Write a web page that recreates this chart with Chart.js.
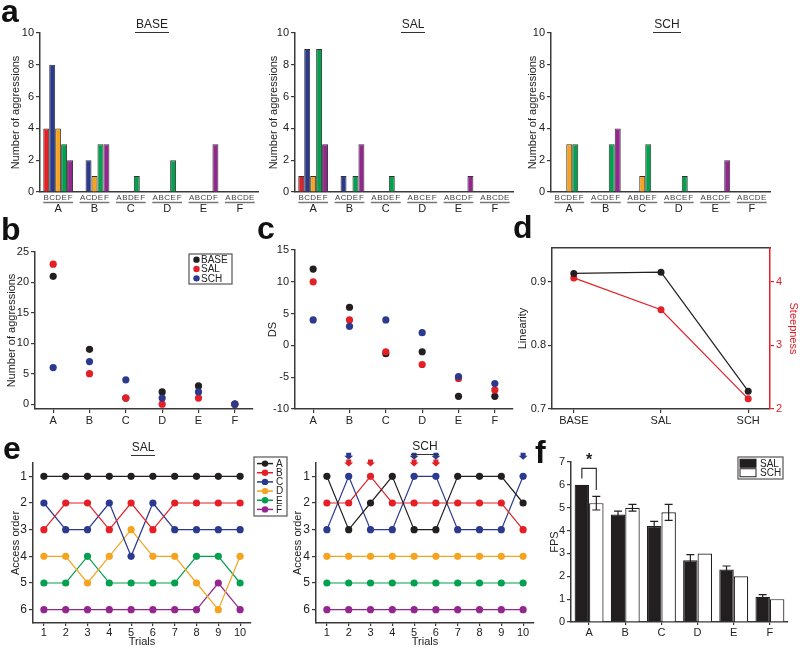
<!DOCTYPE html>
<html>
<head>
<meta charset="utf-8">
<script src="https://cdn.jsdelivr.net/npm/chart.js@4.4.0/dist/chart.umd.min.js"></script>
<style>
  body { margin: 0; background: #fff; width: 800px; height: 649px; position: relative; overflow: hidden;
         font-family: 'Liberation Sans', Arial, sans-serif; }
  canvas { position: absolute; }
  .pl { position: absolute; font-weight: bold; font-size: 32px; line-height: 32px; color: #111; }
  .ttl { position: absolute; width: 80px; text-align: center; font-size: 12px; line-height: 14px; color: #222; }
  .ttl span { border-bottom: 1.5px solid #333; padding: 0 1px 1px; }
</style>
</head>
<body>
<canvas id="a1"></canvas><canvas id="a2"></canvas><canvas id="a3"></canvas>
<canvas id="cb"></canvas><canvas id="cc"></canvas><canvas id="cd"></canvas>
<canvas id="e1"></canvas><canvas id="e2"></canvas><canvas id="cf"></canvas>

<div class="pl" style="left:1px;top:-5px">a</div>
<div class="pl" style="left:1px;top:213px">b</div>
<div class="pl" style="left:257px;top:212px">c</div>
<div class="pl" style="left:513px;top:211px">d</div>
<div class="pl" style="left:3px;top:432px">e</div>
<div class="pl" style="left:535px;top:436px">f</div>

<div class="ttl" style="left:112px;top:17px"><span>BASE</span></div>
<div class="ttl" style="left:373px;top:17px"><span>SAL</span></div>
<div class="ttl" style="left:627px;top:17px"><span>SCH</span></div>
<div class="ttl" style="left:103px;top:440px"><span>SAL</span></div>
<div class="ttl" style="left:385px;top:439px"><span>SCH</span></div>

<script>
const FONT = "'Liberation Sans', Arial, sans-serif";
const AX = '#3a3a3a';

// ---- data ----
const groups = ['A', 'B', 'C', 'D', 'E', 'F'];
const partnerColors = ['#231f20', '#e41f26', '#2b3a8f', '#f6a31f', '#03a14f', '#93278f'];

// a: aggressions by each animal (row) towards each partner (column), null = itself
const aggBase = [
  [null, 4, 8, 4, 3, 2],
  [0, null, 2, 1, 3, 3],
  [0, 0, null, 0, 1, 0],
  [0, 0, 0, null, 2, 0],
  [0, 0, 0, 0, null, 3],
  [0, 0, 0, 0, 0, null]
];
const aggSal = [
  [null, 1, 9, 1, 9, 3],
  [0, null, 1, 0, 1, 3],
  [0, 0, null, 0, 1, 0],
  [0, 0, 0, null, 0, 0],
  [0, 0, 0, 0, null, 1],
  [0, 0, 0, 0, 0, null]
];
const aggSch = [
  [null, 0, 0, 3, 3, 0],
  [0, null, 0, 0, 3, 4],
  [0, 0, null, 1, 3, 0],
  [0, 0, 0, null, 1, 0],
  [0, 0, 0, 0, null, 2],
  [0, 0, 0, 0, 0, null]
];

// b: total aggressions
const totalBase = [21, 9, 1, 2, 3, 0];
const totalSal = [23, 5, 1, 0, 1, 0];
const totalSch = [6, 7, 4, 1, 2, 0];

// c: David's score
const dsBase = [12, 6, -1.3, -1, -8, -8];
const dsSal = [10, 4, -1, -3, -5.2, -7];
const dsSch = [4, 3, 4, 2, -4.9, -6];

// d: hierarchy linearity / steepness
const conditions = ['BASE', 'SAL', 'SCH'];
const linearity = [0.913, 0.915, 0.728];
const steepness = [4.06, 3.56, 2.16];

// e: access order per trial
const trials = [1, 2, 3, 4, 5, 6, 7, 8, 9, 10];
const salA = [1, 1, 1, 1, 1, 1, 1, 1, 1, 1];
const salB = [3, 2, 2, 3, 2, 3, 2, 2, 2, 2];
const salC = [2, 3, 3, 2, 4, 2, 3, 3, 3, 3];
const salD = [4, 4, 5, 4, 3, 4, 4, 5, 6, 4];
const salE = [5, 5, 4, 5, 5, 5, 5, 4, 4, 5];
const salF = [6, 6, 6, 6, 6, 6, 6, 6, 5, 6];
const schA = [1, 3, 2, 1, 3, 3, 1, 1, 1, 2];
const schB = [2, 2, 1, 2, 2, 2, 2, 2, 2, 3];
const schC = [3, 1, 3, 3, 1, 1, 3, 3, 3, 1];
const schD = [4, 4, 4, 4, 4, 4, 4, 4, 4, 4];
const schE = [5, 5, 5, 5, 5, 5, 5, 5, 5, 5];
const schF = [6, 6, 6, 6, 6, 6, 6, 6, 6, 6];
const schBlueArrows = [2, 5, 6, 10];
const schRedArrows = [2, 3, 5, 6];

// f: first position score
const fpsSal = [6.0, 4.7, 4.2, 2.7, 2.3, 1.1];
const fpsSalErr = [0, 0.15, 0.2, 0.25, 0.15, 0.1];
const fpsSch = [5.2, 5.0, 4.8, 3.0, 2.0, 1.0];
const fpsSchErr = [0.3, 0.15, 0.35, 0, 0, 0];

Chart.defaults.font.family = FONT;
Chart.defaults.font.size = 11;
Chart.defaults.color = '#222';
Chart.defaults.animation = false;
Chart.defaults.plugins.legend.display = false;
Chart.defaults.plugins.tooltip.enabled = false;

// put a canvas so the plot area lands on given page pixels
function place(id, b) {
  const c = document.getElementById(id);
  const w = b.r - b.l + b.lw + b.rw, h = b.b - b.t + b.th + b.bh;
  c.style.left = (b.l - b.lw) + 'px';
  c.style.top = (b.t - b.th) + 'px';
  c.width = w; c.height = h;
  c.style.width = w + 'px'; c.style.height = h + 'px';
  return c;
}

const fixedTicks = vals => axis => { axis.ticks = vals.map(v => ({ value: v })); };

function yAxis(b, min, max, ticks, text, pad) {
  return {
    min: min, max: max,
    afterBuildTicks: fixedTicks(ticks),
    afterFit: s => { s.width = b.lw; },
    border: { color: AX, width: 1.5 },
    grid: { drawOnChartArea: false, tickLength: 4, color: AX, lineWidth: 1.2 },
    ticks: { padding: 2, font: { size: 11 } },
    title: { display: true, text: text, padding: { top: pad, bottom: 0 }, font: { size: 11 } }
  };
}

function xCat(b, tickLen) {
  return {
    offset: true,
    afterFit: s => { s.height = b.bh; },
    border: { color: AX, width: 1.5 },
    grid: { offset: false, drawOnChartArea: false, tickLength: tickLen, color: AX, lineWidth: 1.2 },
    ticks: { padding: 1, font: { size: 11 } }
  };
}

// letters of the partners under each bar, with a line under them
const subLabels = {
  id: 'subLabels',
  afterDraw(chart) {
    const ctx = chart.ctx, y0 = chart.chartArea.bottom;
    ctx.save();
    ctx.font = '8px ' + FONT;
    ctx.fillStyle = '#444';
    ctx.textAlign = 'center';
    ctx.textBaseline = 'middle';
    ctx.strokeStyle = '#777';
    ctx.lineWidth = 1.5;
    groups.forEach((g, j) => {
      let x0 = Infinity, x1 = -Infinity;
      chart.data.datasets.forEach((ds, i) => {
        if (ds.data[j] == null) return;
        const bar = chart.getDatasetMeta(i).data[j];
        ctx.fillText(groups[i], bar.x, y0 + 6);
        x0 = Math.min(x0, bar.x - bar.width / 2);
        x1 = Math.max(x1, bar.x + bar.width / 2);
      });
      ctx.beginPath();
      ctx.moveTo(x0, y0 + 10.5);
      ctx.lineTo(x1, y0 + 10.5);
      ctx.stroke();
    });
    ctx.restore();
  }
};

const boxLegend = {
  id: 'boxLegend',
  afterDraw(chart, args, o) {
    if (!o.box) return;
    const ctx = chart.ctx;
    const x = o.box[0] - chart.canvas.offsetLeft, y = o.box[1] - chart.canvas.offsetTop;
    const w = o.box[2], h = o.box[3];
    const sets = chart.data.datasets;
    const rowH = (h - 2 * o.padY) / sets.length;
    ctx.save();
    ctx.lineWidth = 1.2;
    ctx.strokeStyle = '#555';
    ctx.strokeRect(x, y, w, h);
    ctx.font = o.fontSize + 'px ' + FONT;
    ctx.textBaseline = 'middle';
    ctx.textAlign = 'left';
    sets.forEach((ds, i) => {
      const cy = y + o.padY + rowH * (i + 0.5);
      if (o.kind === 'rect') {
        ctx.fillStyle = ds.backgroundColor;
        ctx.strokeStyle = '#231f20';
        ctx.lineWidth = 1;
        ctx.fillRect(x + 2, cy - 4, 16, 8);
        ctx.strokeRect(x + 2, cy - 4, 16, 8);
      } else {
        if (o.kind === 'lineDot') {
          ctx.strokeStyle = ds.borderColor;
          ctx.lineWidth = 1.5;
          ctx.beginPath();
          ctx.moveTo(x + 3, cy);
          ctx.lineTo(x + 19, cy);
          ctx.stroke();
        }
        ctx.fillStyle = ds.borderColor;
        ctx.beginPath();
        ctx.arc(x + o.dotX, cy, 3.2, 0, 2 * Math.PI);
        ctx.fill();
      }
      ctx.fillStyle = '#222';
      ctx.fillText(ds.label, x + o.textX, cy + 0.5);
    });
    ctx.restore();
  }
};

const errBars = {
  id: 'errBars',
  afterDatasetsDraw(chart) {
    const ctx = chart.ctx, ys = chart.scales.y;
    ctx.save();
    ctx.strokeStyle = '#231f20';
    ctx.lineWidth = 1.2;
    chart.data.datasets.forEach((ds, i) => {
      chart.getDatasetMeta(i).data.forEach((bar, j) => {
        const e = ds.err[j];
        if (!e) return;
        const yt = ys.getPixelForValue(ds.data[j] + e), yb = ys.getPixelForValue(ds.data[j] - e);
        ctx.beginPath();
        ctx.moveTo(bar.x, yt); ctx.lineTo(bar.x, yb);
        ctx.moveTo(bar.x - 4, yt); ctx.lineTo(bar.x + 4, yt);
        ctx.moveTo(bar.x - 4, yb); ctx.lineTo(bar.x + 4, yb);
        ctx.stroke();
      });
    });
    ctx.restore();
  }
};

const sigBracket = {
  id: 'sigBracket',
  afterDraw(chart, args, o) {
    if (o.index == null) return;
    const ctx = chart.ctx, ys = chart.scales.y;
    const b0 = chart.getDatasetMeta(0).data[o.index], b1 = chart.getDatasetMeta(1).data[o.index];
    ctx.save();
    ctx.strokeStyle = '#333';
    ctx.lineWidth = 1.2;
    ctx.beginPath();
    ctx.moveTo(b0.x, ys.getPixelForValue(o.leftEnd));
    ctx.lineTo(b0.x, ys.getPixelForValue(o.top));
    ctx.lineTo(b1.x, ys.getPixelForValue(o.top));
    ctx.lineTo(b1.x, ys.getPixelForValue(o.rightEnd));
    ctx.stroke();
    ctx.fillStyle = '#222';
    ctx.font = 'bold 16px ' + FONT;
    ctx.textAlign = 'center';
    ctx.textBaseline = 'middle';
    ctx.fillText('*', (b0.x + b1.x) / 2, ys.getPixelForValue(o.star));
    ctx.restore();
  }
};

const arrows = {
  id: 'arrows',
  afterDraw(chart, args, o) {
    if (!o.sets) return;
    const ctx = chart.ctx, xs = chart.scales.x, ys = chart.scales.y;
    ctx.save();
    o.sets.forEach(s => {
      ctx.fillStyle = s.color;
      s.trials.forEach(t => {
        const x = xs.getPixelForValue(trials.indexOf(t)), y = ys.getPixelForValue(s.at);
        ctx.beginPath();
        ctx.moveTo(x - 2.5, y - 3.5);
        ctx.lineTo(x + 2.5, y - 3.5);
        ctx.lineTo(x + 2.5, y - 0.5);
        ctx.lineTo(x + 4.5, y - 0.5);
        ctx.lineTo(x, y + 3.5);
        ctx.lineTo(x - 4.5, y - 0.5);
        ctx.lineTo(x - 2.5, y - 0.5);
        ctx.closePath();
        ctx.fill();
      });
    });
    ctx.restore();
  }
};

// ---- a: aggression bars ----
function aggChart(id, b, matrix, titlePad) {
  return new Chart(place(id, b), {
    type: 'bar',
    data: {
      labels: groups,
      datasets: groups.map((p, i) => ({
        label: p,
        data: matrix.map(row => row[i]),
        backgroundColor: partnerColors[i],
        borderColor: '#333',
        borderWidth: 1,
        categoryPercentage: 0.82,
        barPercentage: 1,
        skipNull: true
      }))
    },
    options: {
      responsive: false,
      maintainAspectRatio: false,
      layout: { padding: { top: b.th, right: b.rw, left: 0, bottom: 0 } },
      scales: {
        x: {
          afterFit: s => { s.height = b.bh; },
          border: { color: AX, width: 1.5 },
          grid: { display: false, drawTicks: false, tickLength: 0 },
          ticks: { padding: 10, font: { size: 11 } }
        },
        y: yAxis(b, 0, 10, [0, 2, 4, 6, 8, 10], 'Number of aggressions', titlePad)
      }
    },
    plugins: [subLabels]
  });
}

aggChart('a1', { l: 40, t: 33, r: 258, b: 192, lw: 40, th: 10, rw: 4, bh: 26 }, aggBase, 9);
aggChart('a2', { l: 295, t: 33, r: 513, b: 192, lw: 40, th: 10, rw: 4, bh: 26 }, aggSal, 12);
aggChart('a3', { l: 551, t: 33, r: 770, b: 192, lw: 40, th: 10, rw: 4, bh: 26 }, aggSch, 15);

// ---- b and c: dot plots ----
function dotChart(id, b, sets, yMin, yMax, ticks, title, titlePad, legend) {
  const cols = ['#231f20', '#e41f26', '#2b3a8f'];
  const names = ['BASE', 'SAL', 'SCH'];
  return new Chart(place(id, b), {
    type: 'line',
    data: {
      labels: groups,
      datasets: sets.map((d, i) => ({
        label: names[i],
        data: d,
        order: 2 - i,
        showLine: false,
        borderColor: cols[i],
        backgroundColor: cols[i],
        pointBackgroundColor: cols[i],
        pointBorderWidth: 0,
        pointRadius: 3.6
      }))
    },
    options: {
      responsive: false,
      maintainAspectRatio: false,
      layout: { padding: { top: b.th, right: b.rw, left: 0, bottom: 0 } },
      scales: {
        x: xCat(b, 4),
        y: yAxis(b, yMin, yMax, ticks, title, titlePad)
      },
      plugins: { boxLegend: legend || {} }
    },
    plugins: [boxLegend]
  });
}

dotChart('cb', { l: 35, t: 252, r: 253, b: 409, lw: 35, th: 12, rw: 6, bh: 22 },
  [totalBase, totalSal, totalSch], -0.8, 25, [0, 5, 10, 15, 20, 25], 'Number of aggressions', 5,
  { box: [189, 254, 43, 30], padY: 1, kind: 'dot', dotX: 7.5, textX: 12, fontSize: 10 });

dotChart('cc', { l: 295, t: 250, r: 513, b: 409, lw: 40, th: 12, rw: 6, bh: 22 },
  [dsBase, dsSal, dsSch], -10, 15, [-10, -5, 0, 5, 10, 15], 'DS', 11);

// ---- d: linearity & steepness ----
(function () {
  const b = { l: 552, t: 248, r: 770, b: 409, lw: 40, th: 10, rw: 30, bh: 22 };
  const red = '#e41f26';
  new Chart(place('cd', b), {
    type: 'line',
    data: {
      datasets: [
        { label: 'Linearity', data: linearity.map((v, i) => ({ x: i, y: v })), yAxisID: 'y',
          borderColor: '#231f20', backgroundColor: '#231f20', borderWidth: 1.2, pointRadius: 3.5, pointBorderWidth: 0 },
        { label: 'Steepness', data: steepness.map((v, i) => ({ x: i, y: v })), yAxisID: 'y2',
          borderColor: red, backgroundColor: red, borderWidth: 1.2, pointRadius: 3.5, pointBorderWidth: 0 }
      ]
    },
    options: {
      responsive: false,
      maintainAspectRatio: false,
      layout: { padding: { top: b.th, right: 0, left: 0, bottom: 0 } },
      scales: {
        x: {
          type: 'linear', min: -0.25, max: 2.25,
          afterBuildTicks: fixedTicks([0, 1, 2]),
          afterFit: s => { s.height = b.bh; },
          border: { color: AX, width: 1.5 },
          grid: { drawOnChartArea: false, tickLength: 4, color: AX, lineWidth: 1.2 },
          ticks: { padding: 1, font: { size: 11 }, callback: v => conditions[v] }
        },
        xTop: {
          type: 'linear', position: 'top', min: -0.25, max: 2.25,
          afterFit: s => { s.height = 0; },
          border: { color: AX, width: 1.5 },
          grid: { display: false },
          ticks: { display: false }
        },
        y: Object.assign(yAxis(b, 0.7, 0.953, [0.7, 0.8, 0.9], 'Linearity', 4),
          { ticks: { padding: 2, font: { size: 11 }, callback: v => v.toFixed(1) } }),
        y2: {
          position: 'right', min: 2, max: 4.53,
          afterBuildTicks: fixedTicks([2, 3, 4]),
          afterFit: s => { s.width = b.rw; },
          border: { color: red, width: 1.5 },
          grid: { drawOnChartArea: false, tickLength: 4, color: red, lineWidth: 1.2 },
          ticks: { padding: 2, color: red, font: { size: 11 } },
          title: { display: true, text: 'Steepness', color: red, padding: { top: 0, bottom: 0 }, font: { size: 11 } }
        }
      }
    }
  });
})();

// ---- e: access order ----
function orderChart(id, b, series, titlePad, extra) {
  return new Chart(place(id, b), {
    type: 'line',
    data: {
      labels: trials,
      datasets: series.map((d, i) => ({
        label: groups[i],
        data: d,
        borderColor: partnerColors[i],
        backgroundColor: partnerColors[i],
        pointBackgroundColor: partnerColors[i],
        pointBorderWidth: 0,
        pointRadius: 3.6,
        borderWidth: 1.2
      }))
    },
    options: {
      responsive: false,
      maintainAspectRatio: false,
      layout: { padding: { top: b.th, right: b.rw, left: 0, bottom: 0 } },
      scales: {
        x: Object.assign(xCat(b, 3), {
          ticks: { padding: 0, font: { size: 11 } },
          title: { display: true, text: 'Trials', padding: { top: 0, bottom: 0 }, font: { size: 11 } }
        }),
        y: Object.assign(yAxis(b, 0.5, 6.5, [1, 2, 3, 4, 5, 6], 'Access order', titlePad),
          { reverse: true, ticks: { padding: 2, font: { size: 12 } } })
      },
      plugins: extra
    },
    plugins: [boxLegend, arrows]
  });
}

orderChart('e1', { l: 33, t: 463, r: 251, b: 623, lw: 33, th: 10, rw: 41, bh: 26 },
  [salA, salB, salC, salD, salE, salF], 9,
  { boxLegend: { box: [254, 457, 33, 59], padY: 2, kind: 'lineDot', dotX: 11, textX: 22, fontSize: 10 } });

orderChart('e2', { l: 316, t: 463, r: 534, b: 623, lw: 40, th: 16, rw: 6, bh: 26 },
  [schA, schB, schC, schD, schE, schF], 15,
  { arrows: { sets: [{ trials: schBlueArrows, at: 0.25, color: '#2b3a8f' },
                     { trials: schRedArrows, at: 0.5, color: '#e41f26' }] } });

// ---- f: FPS bars ----
(function () {
  const b = { l: 571, t: 462, r: 788, b: 622, lw: 36, th: 22, rw: 10, bh: 22 };
  new Chart(place('cf', b), {
    type: 'bar',
    data: {
      labels: groups,
      datasets: [
        { label: 'SAL', data: fpsSal, err: fpsSalErr, backgroundColor: '#231f20', borderColor: '#231f20',
          borderWidth: 1.2, categoryPercentage: 0.8, barPercentage: 1 },
        { label: 'SCH', data: fpsSch, err: fpsSchErr, backgroundColor: '#ffffff', borderColor: '#231f20',
          borderWidth: 1.2, categoryPercentage: 0.8, barPercentage: 1 }
      ]
    },
    options: {
      responsive: false,
      maintainAspectRatio: false,
      layout: { padding: { top: b.th, right: b.rw, left: 0, bottom: 0 } },
      scales: {
        x: xCat(b, 3),
        y: yAxis(b, 0, 7, [0, 1, 2, 3, 4, 5, 6, 7], 'FPS', 13)
      },
      plugins: {
        boxLegend: { box: [738, 457, 45, 22], padY: 1.5, kind: 'rect', textX: 22, fontSize: 10 },
        sigBracket: { index: 0, top: 6.72, leftEnd: 6.28, rightEnd: 5.78, star: 7.05 }
      }
    },
    plugins: [errBars, boxLegend, sigBracket]
  });
})();
</script>
</body>
</html>
